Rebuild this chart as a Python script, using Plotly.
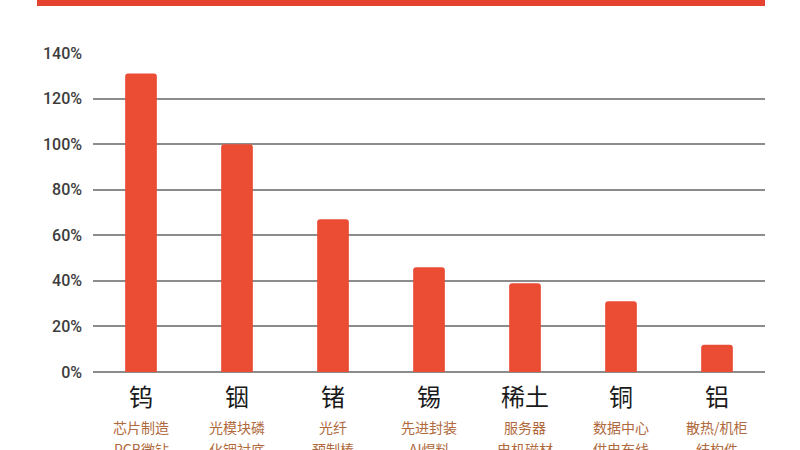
import plotly.graph_objects as go

categories = ["钨", "铟", "锗", "锡", "稀土", "铜", "铝"]
values = [131, 100, 67, 46, 39, 31, 12]
sub_line1 = ["芯片制造", "光模块磷", "光纤", "先进封装", "服务器", "数据中心", "散热/机柜"]
sub_line2 = ["PCB微钻", "化铟衬底", "预制棒", "AI焊料", "电机磁材", "供电布线", "结构件"]
y_ticks = [0, 20, 40, 60, 80, 100, 120, 140]
y_tick_labels = ["0%", "20%", "40%", "60%", "80%", "100%", "120%", "140%"]

fig = go.Figure()
fig.add_trace(go.Bar(
    x=categories, y=values,
    marker=dict(color="#ea4c34", line=dict(width=0)),
    width=0.33,
    hoverinfo="skip",
))

annotations = []
for c, s1, s2 in zip(categories, sub_line1, sub_line2):
    annotations.append(dict(x=c, xref="x", y=0, yref="paper", yanchor="top",
                            yshift=-4, text=c, showarrow=False,
                            font=dict(size=24, color="#1a1a1a", family="Noto Sans CJK SC")))
    annotations.append(dict(x=c, xref="x", y=0, yref="paper", yanchor="top",
                            yshift=-43, text=s1, showarrow=False,
                            font=dict(size=14, color="#b0693c", family="Noto Sans CJK SC")))
    annotations.append(dict(x=c, xref="x", y=0, yref="paper", yanchor="top",
                            yshift=-65, text=s2, showarrow=False,
                            font=dict(size=14, color="#b0693c", family="Noto Sans CJK SC")))

fig.update_layout(
    width=800, height=450,
    margin=dict(l=93, r=35, t=53, b=78),
    paper_bgcolor="white", plot_bgcolor="white",
    showlegend=False,
    barcornerradius=3,
    annotations=annotations,
    shapes=[dict(type="rect", xref="paper", yref="paper",
                 x0=-56/672, x1=1.0, y0=1 + 47/319, y1=1 + 55/319,
                 fillcolor="#e5432f", line=dict(width=0), layer="above")],
    xaxis=dict(range=[-0.5, 6.5], showticklabels=False, showgrid=False,
               zeroline=False, showline=False, ticks=""),
    yaxis=dict(range=[0, 140], tickmode="array", tickvals=y_ticks, ticktext=y_tick_labels,
               showgrid=True, gridcolor="#8c8c8c", gridwidth=1.5,
               zeroline=True, zerolinecolor="#8c8c8c", zerolinewidth=1.5,
               showline=False, ticks="", ticklabelstandoff=10,
               tickfont=dict(size=16, color="#3c3c3c", family="Roboto", weight=500)),
)

fig.write_html("out.html", config={"displayModeBar": False},
               post_script="document.body.style.margin='0';document.body.style.overflow='hidden';")
